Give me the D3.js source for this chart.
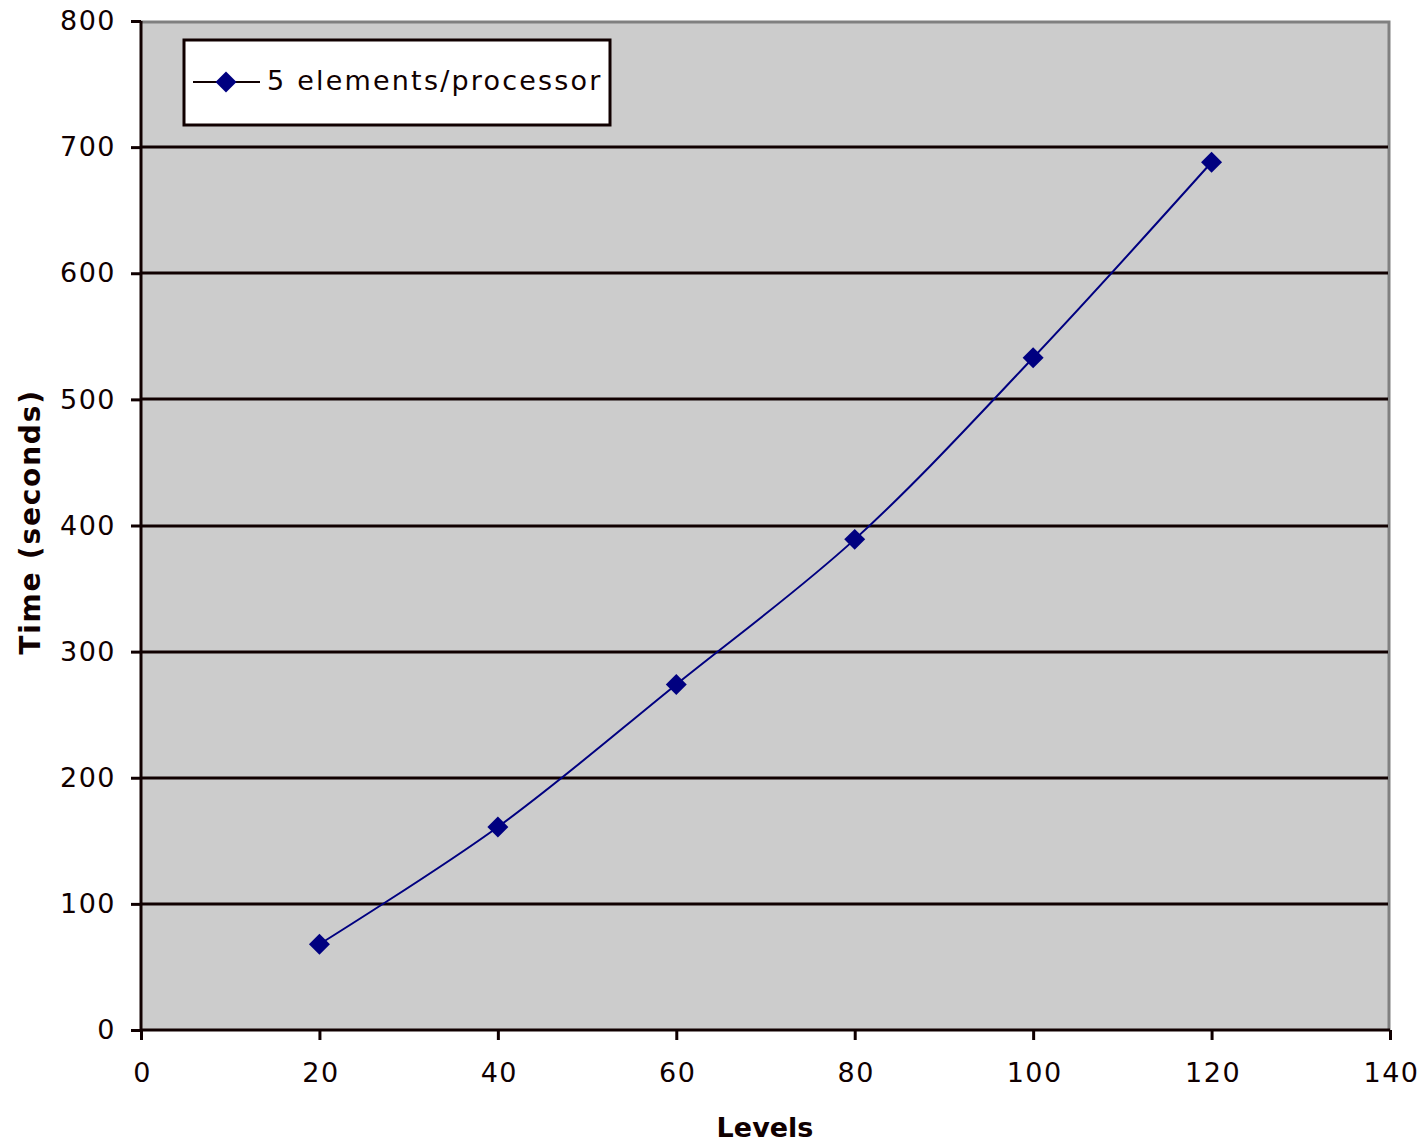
<!DOCTYPE html>
<html>
<head>
<meta charset="utf-8">
<script src="https://cdn.jsdelivr.net/npm/d3@7"></script>
<style>
  html, body { margin: 0; padding: 0; background: #ffffff; }
  svg { display: block; }
  text { font-family: "DejaVu Sans", Verdana, sans-serif; fill: #100000; }
</style>
</head>
<body>
<svg id="chart" width="1425" height="1144"></svg>
<script>
// Run time versus number of levels
const levels = [20, 40, 60, 80, 100, 120];
const timeSeconds = [68, 161, 274, 389, 533, 688];
const seriesName = "5 elements/processor";
const xTicks = [0, 20, 40, 60, 80, 100, 120, 140];
const yTicks = [0, 100, 200, 300, 400, 500, 600, 700, 800];

const svg = d3.select("#chart");
const plot = { left: 141, right: 1390, top: 21, bottom: 1030 };

const x = d3.scaleLinear().domain([0, 140]).range([plot.left, plot.right]);
const y = d3.scaleLinear().domain([0, 800]).range([plot.bottom, plot.top]);

const ink = "#100000";
const navy = "#000080";

// plot background
svg.append("rect")
  .attr("x", plot.left).attr("y", plot.top)
  .attr("width", plot.right - plot.left).attr("height", plot.bottom - plot.top)
  .attr("fill", "#cccccc");

// top and right frame edges
svg.append("path")
  .attr("d", `M${plot.left},${plot.top + 1} H${plot.right - 1} V${plot.bottom}`)
  .attr("fill", "none").attr("stroke", "#808080").attr("stroke-width", 3);

// horizontal gridlines
svg.append("g").selectAll("line")
  .data(yTicks.filter(d => d > 0 && d < 800))
  .join("line")
  .attr("x1", plot.left).attr("x2", plot.right - 2)
  .attr("y1", d => Math.round(y(d))).attr("y2", d => Math.round(y(d)))
  .attr("stroke", ink).attr("stroke-width", 3);

// y axis
const yAxis = svg.append("g")
  .attr("transform", `translate(${plot.left},0)`)
  .call(d3.axisLeft(y).tickValues(yTicks).tickSize(10).tickPadding(15).tickFormat(d3.format("d")));
yAxis.select(".domain").attr("stroke", ink).attr("stroke-width", 3)
  .attr("d", `M0,${plot.top}V${plot.bottom}`);
yAxis.selectAll(".tick line").attr("stroke", ink).attr("stroke-width", 3);
yAxis.selectAll(".tick text")
  .style("font-family", "'DejaVu Sans', Verdana, sans-serif")
  .style("font-size", "27px").style("letter-spacing", "1.5px").attr("fill", ink);

// x axis
const xAxis = svg.append("g")
  .attr("transform", `translate(0,${plot.bottom})`)
  .call(d3.axisBottom(x).tickValues(xTicks).tickSize(10).tickPadding(23).tickFormat(d3.format("d")));
xAxis.select(".domain").attr("stroke", ink).attr("stroke-width", 3)
  .attr("d", `M${plot.left},0H${plot.right}`);
xAxis.selectAll(".tick line").attr("stroke", ink).attr("stroke-width", 3);
xAxis.selectAll(".tick text")
  .style("font-family", "'DejaVu Sans', Verdana, sans-serif")
  .style("font-size", "27px").style("letter-spacing", "1.5px").attr("fill", ink)
  .attr("dx", "1px");

// axis titles
svg.append("text")
  .attr("x", 765).attr("y", 1137)
  .attr("text-anchor", "middle")
  .style("font-size", "27px").style("font-weight", "bold")
  .text("Levels");

svg.append("text")
  .attr("transform", "translate(40,522) rotate(-90)")
  .attr("text-anchor", "middle")
  .style("font-size", "28px").style("font-weight", "bold").style("letter-spacing", "1.8px")
  .text("Time (seconds)");

// data series
const pts = levels.map((l, i) => [l, timeSeconds[i]]);
svg.append("path")
  .datum(pts)
  .attr("fill", "none")
  .attr("stroke", navy).attr("stroke-width", 2)
  .attr("d", d3.line().x(d => x(d[0])).y(d => y(d[1])).curve(d3.curveCatmullRom.alpha(0.5)));

// compact diamond marker, about 20px across
const marker = {
  draw(ctx, size) {
    const r = Math.sqrt(size / 2);
    ctx.moveTo(0, -r);
    ctx.lineTo(r, 0);
    ctx.lineTo(0, r);
    ctx.lineTo(-r, 0);
    ctx.closePath();
  }
};
const diamond = d3.symbol().type(marker).size(220);
svg.append("g").selectAll("path")
  .data(pts)
  .join("path")
  .attr("transform", d => `translate(${x(d[0])},${y(d[1])})`)
  .attr("d", diamond)
  .attr("fill", navy);

// legend
const lg = svg.append("g");
lg.append("rect")
  .attr("x", 184).attr("y", 40).attr("width", 426).attr("height", 85)
  .attr("fill", "#ffffff").attr("stroke", ink).attr("stroke-width", 3);
lg.append("line")
  .attr("x1", 193).attr("x2", 260).attr("y1", 82).attr("y2", 82)
  .attr("stroke", ink).attr("stroke-width", 2);
lg.append("path")
  .attr("transform", "translate(226,82)")
  .attr("d", diamond).attr("fill", navy);
lg.append("text")
  .attr("x", 267).attr("y", 90)
  .style("font-size", "27px").style("letter-spacing", "2.2px")
  .text(seriesName);
</script>
</body>
</html>
